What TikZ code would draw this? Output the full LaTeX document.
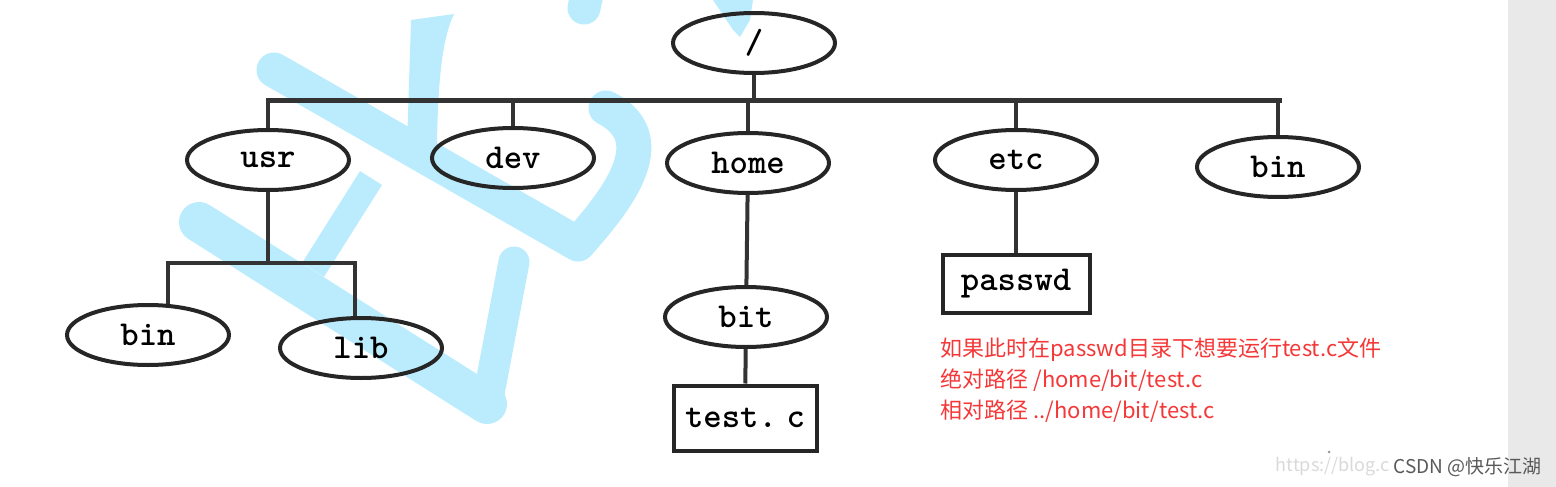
\documentclass[tikz,border=0pt]{standalone}
\usepackage{fontspec}
\newfontfamily\cjk{Noto Sans CJK SC}
\usetikzlibrary{shapes.geometric}
\definecolor{wmblue}{RGB}{187,236,253}
\definecolor{notered}{RGB}{245,55,55}
\definecolor{sidegray}{RGB}{233,233,233}
\newcommand{\treefont}{\fontsize{35}{40}\selectfont\ttfamily\bfseries}
\tikzset{
  dir/.style={ellipse, draw=black!85, line width=4pt, minimum width=162pt, minimum height=60pt, inner sep=0pt, font=\treefont},
  file/.style={rectangle, draw=black!85, line width=4pt, inner sep=0pt, font=\treefont},
  link/.style={draw=black!80, line width=4pt},
  wm/.style={draw=wmblue, line cap=round, line join=round}
}
\begin{document}
\begin{tikzpicture}[x=1pt, y=-1pt]
    \useasboundingbox (0,0) rectangle (1556,487);
    \fill[sidegray] (1508,0) rectangle (1556,487);
    % watermark strokes
    \fill[wmblue] (411,20) -- (454,14) .. controls (444,35) and (438,70) .. (437,145) -- (407,145) -- cycle;
    \draw[wm, line width=35pt] (274,70) -- (578,244) .. controls (612,205) and (668,140) .. (606,108);
    \draw[wm, line width=40pt] (199,222) -- (487,404);
    \draw[wm, line width=31pt] (487,404) -- (514,262);
    \draw[wm, line width=26pt, line cap=butt] (371,178) -- (313,270);
    \draw[wm, line width=33pt] (590,-20) -- (584,8);
    \fill[wmblue] (713,0) -- (753,0) -- (750,20) -- (740,37) -- (733,30) -- cycle;
    % tree
    \node[dir] (root) at (754,43) {/};
    \node[dir] (usr) at (268,160) {usr};
    \node[dir] (dev) at (513,158) {dev};
    \node[dir] (home) at (748,163) {home};
    \node[dir] (etc) at (1016,160) {etc};
    \node[dir] (bin) at (1278,167) {bin};
    \node[dir] (bit) at (746,317) {bit};
    \node[dir] (ubin) at (148,335) {bin};
    \node[dir] (lib) at (361,348) {lib};
    \node[file, minimum width=143pt, minimum height=65pt] (test) at (745,418) {test.\kern-0.25em\ c};
    \node[file, minimum width=147pt, minimum height=58pt] (passwd) at (1016,284) {passwd};
    \coordinate (barL) at (266,100);
    \coordinate (barR) at (1282,100);
    \coordinate (fork) at (266,263);
    \draw[link, line width=5pt] (barL) -- (barR);
    \draw[link] (root) -- (root |- barL);
    \foreach \d in {usr,dev,home,etc,bin}
      \draw[link] (\d) -- (\d |- barL);
    \draw[link] (usr) -- (usr |- fork);
    \draw[link] (ubin.57) |- (fork) -| (lib.100);
    \draw[link] (home) -- (bit);
    \draw[link] (bit) -- (test);
    \draw[link] (etc) -- (passwd);
    % note
    \node[anchor=west, text=notered, font=\cjk\fontsize{22}{31}\selectfont, align=left] (note) at (937,380)
      {如果此时在passwd目录下想要运行test.c文件\\绝对路径 /home/bit/test.c\\相对路径 ../home/bit/test.c};
    \fill[black!40] (1329,452) circle (1.5);
    \node[anchor=east, text=black!65, font=\cjk\fontsize{19}{20}\selectfont] (mark) at (1545,467) {CSDN @快乐江湖};
    \node[anchor=east, text=black!15, font=\cjk\fontsize{18}{20}\selectfont, inner sep=0pt] (url) at (mark.west) {https://blog.c};
  \end{tikzpicture}
\end{document}
